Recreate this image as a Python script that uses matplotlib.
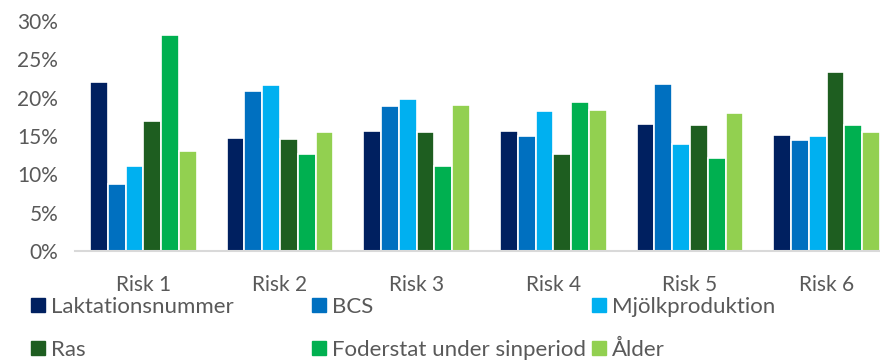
import numpy as np
import matplotlib.pyplot as plt
from matplotlib.patches import Patch

plt.rcParams['font.family'] = ['Lato', 'DejaVu Sans']

categories = ['Risk 1', 'Risk 2', 'Risk 3', 'Risk 4', 'Risk 5', 'Risk 6']
series_names = ['Laktationsnummer', 'BCS', 'Mjölkproduktion', 'Ras',
                'Foderstat under sinperiod', 'Ålder']
laktation = [22.0, 14.7, 15.6, 15.6, 16.6, 15.1]
bcs = [8.7, 20.9, 18.9, 15.0, 21.8, 14.5]
mjolk = [11.1, 21.7, 19.8, 18.3, 13.9, 15.0]
ras = [17.0, 14.6, 15.5, 12.6, 16.5, 23.4]
foder = [28.2, 12.6, 11.1, 19.4, 12.1, 16.4]
alder = [13.1, 15.5, 19.0, 18.4, 18.0, 15.5]
colors = ['#002060', '#0070c0', '#00b0f0', '#1e5e20', '#00b050', '#92d050']

series = [laktation, bcs, mjolk, ras, foder, alder]
grey = '#595959'

fig = plt.figure(figsize=(8.8, 3.62), dpi=100)
# plot area runs a little past the right edge, as in the original
ax = fig.add_axes([75 / 880, 111 / 362, 820 / 880, 230 / 362])

x = np.arange(len(categories))
w = 0.13
for i, (vals, c) in enumerate(zip(series, colors)):
    ax.bar(x + (i - 2.5) * w, vals, width=w, color=c, edgecolor='white',
           linewidth=1.2, label=series_names[i])

ax.set_xlim(-0.5, len(categories) - 0.5)
ax.set_ylim(0, 30)
ax.set_yticks(range(0, 31, 5))
ax.set_yticklabels([f'{v}%' for v in range(0, 31, 5)])
ax.set_xticks(x)
ax.set_xticklabels(categories)
ax.tick_params(axis='both', length=0, labelsize=15, colors=grey)
ax.tick_params(axis='y', pad=12)
ax.tick_params(axis='x', pad=17)
for s in ['top', 'right', 'left']:
    ax.spines[s].set_visible(False)
ax.spines['bottom'].set_color('#d9d9d9')
ax.spines['bottom'].set_linewidth(1.5)

# legend laid out as a 3x2 grid like Excel
col_x = [31 / 880, 312 / 880, 592 / 880]
for j in range(3):
    idx = [j, j + 3]
    handles = [Patch(color=colors[k]) for k in idx]
    labels = [series_names[k] for k in idx]
    fig.legend(handles, labels, loc='upper left',
               bbox_to_anchor=(col_x[j], 1 - 297 / 362), frameon=False,
               fontsize=16, labelcolor=grey, handlelength=0.63,
               handleheight=0.63, handletextpad=0.27, labelspacing=1.02,
               borderpad=0, borderaxespad=0)

fig.savefig('out.png', dpi=100)
